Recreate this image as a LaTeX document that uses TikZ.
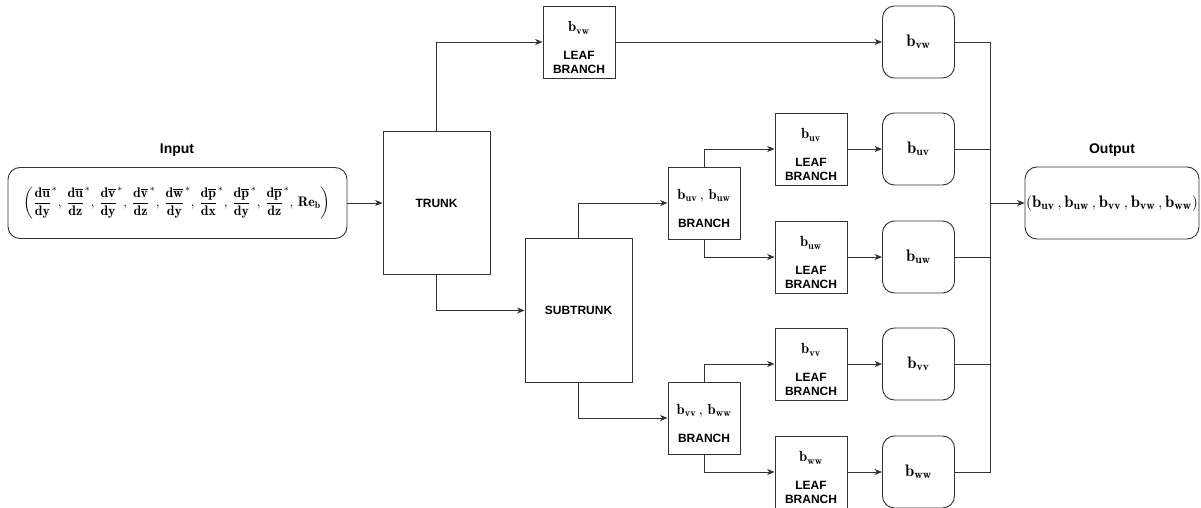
\documentclass[tikz,border=0pt]{standalone}
\usepackage{fontspec}
\setsansfont{Liberation Sans}
\usepackage{amsmath}
\usepackage{tikz}
\usetikzlibrary{arrows.meta}
\tikzstyle{arrow} = [->,>={Stealth[length=5.5pt,width=4.5pt,inset=1.5pt]}]
\tikzstyle{wire} = [draw=black!80, line width=0.7pt]
\tikzstyle{sqbox} = [wire, inner sep=0pt, minimum width=54pt, minimum height=54pt]
\tikzstyle{rbox} = [sqbox, rounded corners=9pt]
\tikzstyle{trunkbox} = [wire, inner sep=0pt, minimum width=80.25pt, minimum height=107.5pt, font=\sffamily\bfseries\fontsize{9}{10}\selectfont]
\tikzstyle{tag} = [inner sep=0pt, align=center, font=\sffamily\bfseries\fontsize{9}{10.5}\selectfont]
\tikzstyle{headline} = [inner sep=0pt, font=\sffamily\bfseries\fontsize{10.5}{12}\selectfont]
\tikzstyle{sym} = [inner sep=0pt, font=\fontsize{11}{13}\selectfont]
\tikzstyle{bigsym} = [inner sep=0pt, font=\fontsize{12.5}{15}\selectfont]
\tikzstyle{vecsym} = [inner sep=0pt, font=\fontsize{10.4}{12}\selectfont]

\newcommand{\dfr}[2]{\dfrac{\mathbf{d\overline{#1}}}{\mathbf{d#2}}^{*}}
\newcommand{\inputvec}{$\biggl(\dfr{u}{y}\mathbf{,}\,\,\dfr{u}{z}\mathbf{,}\,\,\dfr{v}{y}\mathbf{,}\,\,\dfr{v}{z}\mathbf{,}\,\,\dfr{w}{y}\mathbf{,}\,\,\dfr{p}{x}\mathbf{,}\,\,\dfr{p}{y}\mathbf{,}\,\,\dfr{p}{z}\mathbf{,}\,\,\mathbf{Re_b}\biggr)$}
\newcommand{\outputvec}{$(\mathbf{b_{uv}\,,b_{uw}\,,b_{vv}\,,b_{vw}\,,b_{ww}})$}

\begin{document}
\begin{tikzpicture}[x=0.75pt,y=-0.75pt]
    \useasboundingbox (0,0) rectangle (1201,507);

    % input
    \node[headline] (inlabel) at (177,150) {Input};
    \node[rbox, minimum width=254.25pt, minimum height=53.25pt] (inp) at (177.5,203) {};
    \node[vecsym] (inptext) at (177,203) {\inputvec};

    % trunks
    \node[trunkbox] (trunk) at (436.5,203) {TRUNK};
    \node[trunkbox] (subtrunk) at (578.5,310.5) {SUBTRUNK};

    % branches
    \node[sqbox] (buv) at (704,203) {};
    \node[sym] (buvtext) at (704,196) {$\mathbf{b_{uv}\,,\,b_{uw}}$};
    \node[tag] (buvtag) at (704,223) {BRANCH};
    \node[sqbox] (bvv) at (704,418) {};
    \node[sym] (bvvtext) at (704,411) {$\mathbf{b_{vv}\,,\,b_{ww}}$};
    \node[tag] (bvvtag) at (704,438) {BRANCH};

    % leaf branches
    \node[sqbox] (lvw) at (579,42) {};
    \node[sym] (lvwtext) at (579,28) {$\mathbf{b_{vw}}$};
    \node[tag] (lvwtag) at (579,62.5) {LEAF\\BRANCH};
    \node[sqbox] (luv) at (811,149) {};
    \node[sym] (luvtext) at (811,135) {$\mathbf{b_{uv}}$};
    \node[tag] (luvtag) at (811,169.5) {LEAF\\BRANCH};
    \node[sqbox] (luw) at (811,257) {};
    \node[sym] (luwtext) at (811,243) {$\mathbf{b_{uw}}$};
    \node[tag] (luwtag) at (811,277.5) {LEAF\\BRANCH};
    \node[sqbox] (lvv) at (811,364) {};
    \node[sym] (lvvtext) at (811,350) {$\mathbf{b_{vv}}$};
    \node[tag] (lvvtag) at (811,384.5) {LEAF\\BRANCH};
    \node[sqbox] (lww) at (811,472) {};
    \node[sym] (lwwtext) at (811,458) {$\mathbf{b_{ww}}$};
    \node[tag] (lwwtag) at (811,492.5) {LEAF\\BRANCH};

    % single outputs
    \node[rbox, bigsym] (ovw) at (918.5,42) {$\mathbf{b_{vw}}$};
    \node[rbox, bigsym] (ouv) at (918.5,149) {$\mathbf{b_{uv}}$};
    \node[rbox, bigsym] (ouw) at (918.5,257) {$\mathbf{b_{uw}}$};
    \node[rbox, bigsym] (ovv) at (918.5,364) {$\mathbf{b_{vv}}$};
    \node[rbox, bigsym] (oww) at (918.5,472) {$\mathbf{b_{ww}}$};

    % output
    \coordinate (bus) at (990,203);
    \node[headline] (outlabel) at (1112,150) {Output};
    \node[rbox, bigsym, minimum width=130.5pt] (outp) at (1112,203) {\outputvec};

    % connectors
    \draw[wire, arrow] (inp.east) -- (trunk.west);
    \draw[wire, arrow] (trunk.north) |- (lvw.west);
    \draw[wire, arrow] (trunk.south) |- (subtrunk.west);
    \draw[wire, arrow] (subtrunk.north) |- (buv.west);
    \draw[wire, arrow] (subtrunk.south) |- (bvv.west);
    \draw[wire, arrow] (buv.north) |- (luv.west);
    \draw[wire, arrow] (buv.south) |- (luw.west);
    \draw[wire, arrow] (bvv.north) |- (lvv.west);
    \draw[wire, arrow] (bvv.south) |- (lww.west);
    \draw[wire, arrow] (lvw.east) -- (ovw.west);
    \draw[wire, arrow] (luv.east) -- (ouv.west);
    \draw[wire, arrow] (luw.east) -- (ouw.west);
    \draw[wire, arrow] (lvv.east) -- (ovv.west);
    \draw[wire, arrow] (lww.east) -- (oww.west);
    \draw[wire] (ovw.east) -| (bus);
    \draw[wire] (ouv.east) -| (bus);
    \draw[wire] (ouw.east) -| (bus);
    \draw[wire] (ovv.east) -| (bus);
    \draw[wire] (oww.east) -| (bus);
    \draw[wire, arrow] (bus) -- (outp.west);
\end{tikzpicture}
\end{document}
